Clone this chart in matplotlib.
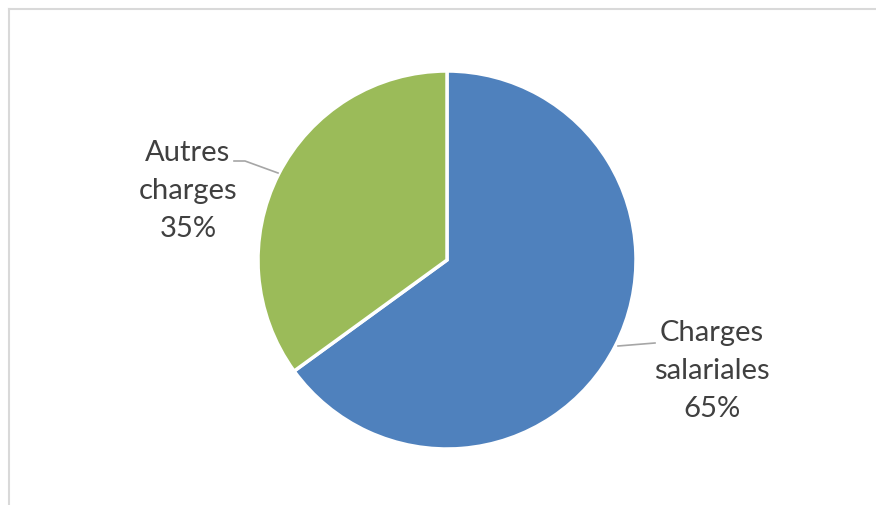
import matplotlib.pyplot as plt
from matplotlib.lines import Line2D

categories = ["Charges\nsalariales", "Autres\ncharges"]
values = [65, 35]
colors = ["#4F81BD", "#9BBB59"]

W, H = 876, 506
fig = plt.figure(figsize=(W / 100, H / 100), dpi=100)
ax = fig.add_axes([0, 0, 1, 1])

cx, cy, r = 447, H - 261, 189
ax.pie(values, colors=colors, startangle=90, counterclock=False,
       center=(cx, cy), radius=r,
       wedgeprops=dict(edgecolor="white", linewidth=2.5))
ax.set_xlim(0, W)
ax.set_ylim(0, H)
ax.set_aspect("auto")
ax.axis("off")

# chart area border (only left and top visible)
ax.add_line(Line2D([8.5, 8.5], [0, H - 9.5], color="#D9D9D9", lw=1.5))
ax.add_line(Line2D([8.5, W], [H - 9.5, H - 9.5], color="#D9D9D9", lw=1.5))

total = sum(values)
font = dict(family=["Lato", "DejaVu Sans"], size=21, color="#404040",
            ha="center", va="center", linespacing=1.55)
labels = [f"{c}\n{v / total:.0%}" for c, v in zip(categories, values)]
ax.text(712, H - 371, labels[0], **font)
ax.text(188, H - 191, labels[1], **font)

# leader lines
ax.add_line(Line2D([618, 655], [H - 347, H - 344], color="#A6A6A6", lw=1.2))
ax.add_line(Line2D([234, 245, 278], [H - 162, H - 162, H - 174], color="#A6A6A6", lw=1.2))

fig.savefig("out.png", dpi=100)
